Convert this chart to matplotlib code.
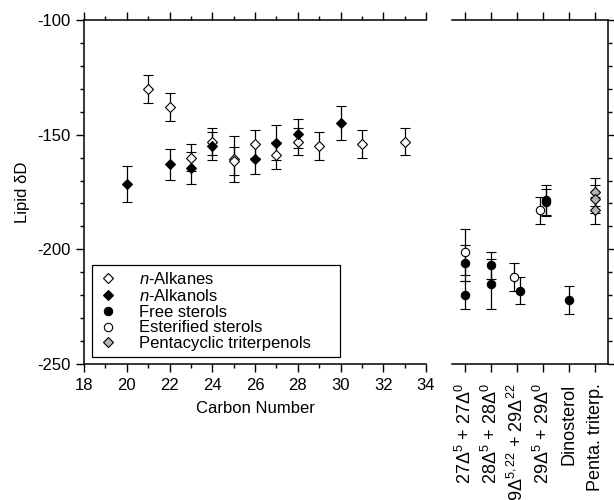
import matplotlib
matplotlib.use("Agg")
import matplotlib.pyplot as plt
from matplotlib.ticker import MultipleLocator, FixedLocator, NullFormatter

plt.rcParams['font.family'] = ['Liberation Sans', 'DejaVu Sans']
plt.rcParams['mathtext.fontset'] = 'custom'
plt.rcParams['mathtext.rm'] = 'Liberation Sans'
plt.rcParams['mathtext.it'] = 'Liberation Sans:italic'
plt.rcParams['mathtext.default'] = 'regular'
plt.rcParams['axes.unicode_minus'] = False

# n-alkanes (carbon number, dD, error)
alk_c = [21, 22, 23, 24, 25, 25, 26, 27, 28, 29, 31, 33]
alk_d = [-130, -138, -160, -153, -160.5, -161.5, -154, -159, -153, -155, -154, -153]
alk_e = [6, 6, 6, 6, 10, 6, 6, 6, 6, 6, 6, 6]

# n-alkanols
aol_c = [20, 22, 23, 24, 26, 27, 28, 30]
aol_d = [-171.5, -163, -164.5, -155, -160.5, -153.5, -149.5, -145]
aol_e = [7.7, 6.7, 7, 6, 6.5, 7.5, 6.5, 7.5]

# sterols / triterpenols, by category index
categories = ['27Δ$^{5}$ + 27Δ$^{0}$', '28Δ$^{5}$ + 28Δ$^{0}$',
              '29Δ$^{5,22}$ + 29Δ$^{22}$', '29Δ$^{5}$ + 29Δ$^{0}$',
              'Dinosterol', 'Penta. triterp.']
free_cat = [0, 0, 1, 1, 2, 3, 3, 4]
free_d = [-206, -220, -207, -215, -218, -178.5, -179.5, -222]
free_e = [8, 6, 6, 11, 6, 6.5, 6, 6]
free_shift = [0, 0, 0, 0, 0.1, 0.1, 0.1, 0]

ester_cat = [0, 2, 3]
ester_d = [-201, -212, -183]
ester_e = [10, 6, 6]
ester_shift = [0, -0.1, -0.1]

penta_cat = [5, 5, 5]
penta_d = [-175, -178, -183]
penta_e = [6, 6, 6]

fig = plt.figure(figsize=(6.14, 5.0), dpi=100)
ax = fig.add_axes([84/614, 1-364/500, 342/614, 344/500])
ax2 = fig.add_axes([452/614, 1-364/500, 156/614, 344/500])

eb = dict(ecolor='black', elinewidth=0.9, capsize=3.6, capthick=0.9, linestyle='none', mec='black', mew=0.8)

ax.errorbar(alk_c, alk_d, yerr=alk_e, fmt='D', ms=5.6, mfc='white', **eb)
ax.errorbar(aol_c, aol_d, yerr=aol_e, fmt='D', ms=5.6, mfc='black', **eb)

fx = [c + s for c, s in zip(free_cat, free_shift)]
ex = [c + s for c, s in zip(ester_cat, ester_shift)]
ax2.errorbar(ex, ester_d, yerr=ester_e, fmt='o', ms=6, mfc='white', **eb)
ax2.errorbar(fx, free_d, yerr=free_e, fmt='o', ms=6, mfc='black', **eb)
ax2.errorbar(penta_cat, penta_d, yerr=penta_e, fmt='D', ms=5.6, mfc='#b4b4b4', **eb)

# legend proxies (markers only)
h1, = ax.plot([], [], 'D', ms=5, mfc='white', mec='black', mew=0.8)
h2, = ax.plot([], [], 'D', ms=5, mfc='black', mec='black', mew=0.8)
h3, = ax.plot([], [], 'o', ms=6, mfc='black', mec='black', mew=0.8)
h4, = ax.plot([], [], 'o', ms=6, mfc='white', mec='black', mew=0.8)
h5, = ax.plot([], [], 'D', ms=5, mfc='#b4b4b4', mec='black', mew=0.8)

for a in (ax, ax2):
    a.set_ylim(-250, -100)
    a.yaxis.set_major_locator(MultipleLocator(50))
    a.yaxis.set_minor_locator(MultipleLocator(10))
    a.tick_params(which='major', direction='out', length=6, width=1, labelsize=12)
    a.tick_params(which='minor', direction='out', length=3, width=1)
    for s in a.spines.values():
        s.set_linewidth(1.1)

ax.set_xlim(18, 34)
ax.xaxis.set_major_locator(MultipleLocator(2))
ax.xaxis.set_minor_locator(MultipleLocator(1))
ax.spines['right'].set_visible(False)
ax.tick_params(axis='x', which='both', top=True)
ax.tick_params(axis='x', which='major', pad=4)
ax.set_xlabel('Carbon Number', fontsize=12, labelpad=6)
ax.set_ylabel('Lipid δD', fontsize=12, labelpad=5)

ax2.set_xlim(-0.5, 5.5)
ax2.xaxis.set_major_locator(FixedLocator(range(len(categories))))
ax2.set_xticklabels(categories, rotation=90, fontsize=13)
ax2.spines['left'].set_visible(False)
ax2.tick_params(axis='x', which='both', top=True)
ax2.tick_params(axis='x', which='major', pad=8)
ax2.tick_params(axis='y', which='both', left=False, right=True, labelleft=False)
ax2.yaxis.set_major_formatter(NullFormatter())

leg = ax.legend([h1, h2, h3, h4, h5],
                [r'$\mathit{n}$-Alkanes', r'$\mathit{n}$-Alkanols', 'Free sterols',
                 'Esterified sterols', 'Pentacyclic triterpenols'],
                loc='lower left', bbox_to_anchor=(0.023, 0.02, 0.725, 0.26), mode='expand',
                borderaxespad=0, fontsize=12, frameon=True, fancybox=False,
                edgecolor='black', framealpha=1, labelspacing=0.05, handlelength=1.2,
                handletextpad=1.3, borderpad=0.35)
leg.get_frame().set_linewidth(0.9)

fig.savefig('out.png', dpi=100)
